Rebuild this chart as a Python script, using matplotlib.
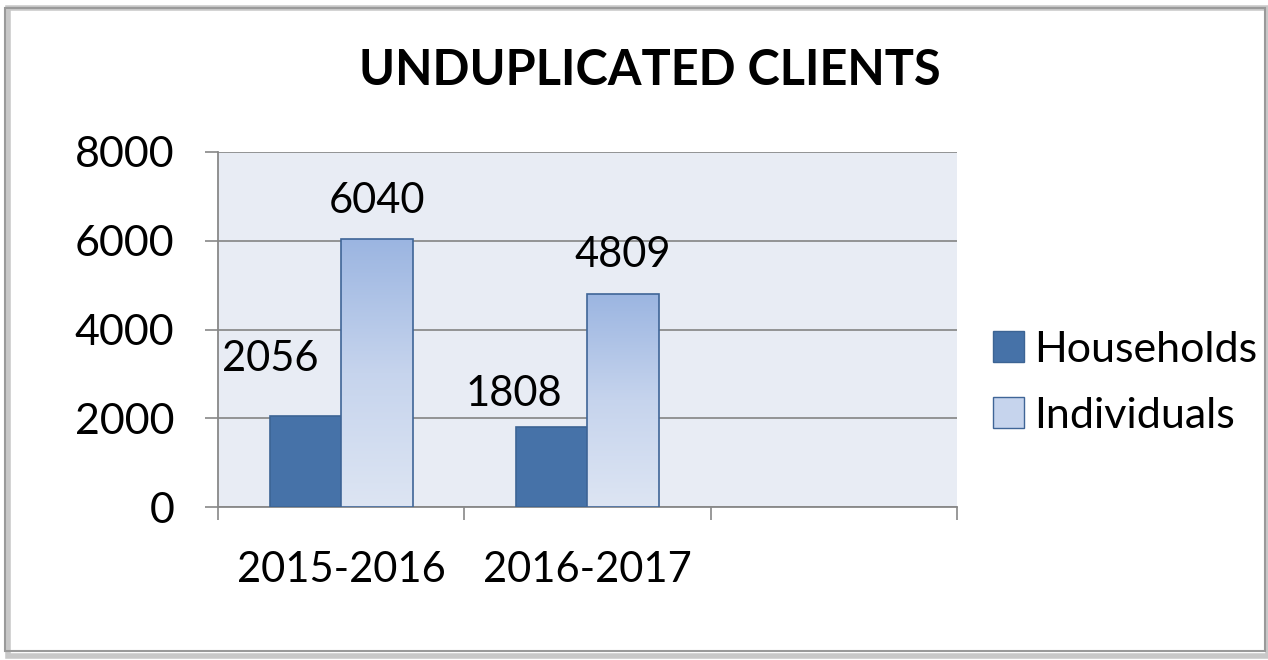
import numpy as np
import matplotlib.pyplot as plt
from matplotlib.patches import Rectangle, Patch
from matplotlib.colors import LinearSegmentedColormap

# data
categories = ["2015-2016", "2016-2017", ""]
households = [2056, 1808]
individuals = [6040, 4809]
series_names = ["Households", "Individuals"]
yticks = [0, 2000, 4000, 6000, 8000]

plt.rcParams["font.family"] = ["Lato", "DejaVu Sans"]

fig = plt.figure(figsize=(12.68, 6.6), dpi=100)

# outer frame with a soft shadow
fig.patches.append(Rectangle((0.006, 0.006), 0.994, 0.982, transform=fig.transFigure,
                             facecolor="none", edgecolor="#c8c8c8", lw=4, zorder=-2))
fig.patches.append(Rectangle((0.004, 0.014), 0.994, 0.974, transform=fig.transFigure,
                             facecolor="none", edgecolor="#9a9a9a", lw=1.5, zorder=-1))

ax = fig.add_axes([0.1719, 0.2318, 0.5828, 0.5379])
ax.set_facecolor("#e8ecf4")

dark = "#4672a8"
grad = LinearSegmentedColormap.from_list("ind", ["#dde5f3", "#c6d4ed", "#9bb5e1"])

w = 0.29
x = np.arange(len(households))
b1 = ax.bar(x - w / 2, households, w, color=dark, edgecolor="#3c6494", lw=1.2, zorder=3)
b2 = ax.bar(x + w / 2, individuals, w, color="none", edgecolor="#3f6597", lw=1.2, zorder=4)

# vertical gradient inside the Individuals bars
g = np.linspace(0, 1, 256).reshape(-1, 1)
for bar in b2:
    x0, y0 = bar.get_x(), bar.get_y()
    im = ax.imshow(g, cmap=grad, origin="lower", aspect="auto", zorder=3,
                   extent=[x0, x0 + bar.get_width(), y0, y0 + bar.get_height()])
    im.set_clip_path(bar)

# data labels (offsets in points, Excel places the small ones a bit to the left)
fs = 30
offs_h = [(-25, 27), (-27, 10)]
offs_i = [(0, 14), (0, 14)]
for bar, v, o in zip(b1, households, offs_h):
    ax.annotate(str(v), (bar.get_x() + bar.get_width() / 2, v), xytext=o,
                textcoords="offset points", ha="center", va="bottom", fontsize=fs)
for bar, v, o in zip(b2, individuals, offs_i):
    ax.annotate(str(v), (bar.get_x() + bar.get_width() / 2, v), xytext=o,
                textcoords="offset points", ha="center", va="bottom", fontsize=fs)

ax.set_xlim(-0.5, len(categories) - 0.5)
ax.set_ylim(0, 8000)
ax.set_yticks(yticks)
ax.set_xticks(np.arange(len(categories)))
ax.set_xticklabels(categories)
ax.set_xticks(np.arange(len(categories) + 1) - 0.5, minor=True)
ax.tick_params(axis="x", which="major", length=0, pad=32, labelsize=fs)
ax.tick_params(axis="x", which="minor", length=9.4, width=1.2, color="#888888")
ax.tick_params(axis="y", length=9.4, width=1.2, color="#888888", pad=22, labelsize=31)

ax.yaxis.grid(True, color="#8c8c8c", lw=1.3, zorder=1)
ax.set_axisbelow(True)
for s in ["top", "right"]:
    ax.spines[s].set_visible(False)
for s in ["left", "bottom"]:
    ax.spines[s].set_color("#888888")
    ax.spines[s].set_linewidth(1.3)

fig.text(0.5126, 0.893, "UNDUPLICATED CLIENTS", ha="center", va="center",
         fontsize=35, fontweight="bold")

handles = [Patch(facecolor=dark, edgecolor="#3c6494"),
           Patch(facecolor="#c6d4ed", edgecolor="#3f6597")]
fig.legend(handles, series_names, loc="center left", bbox_to_anchor=(0.783, 0.42),
           frameon=False, fontsize=31, handlelength=0.72, handleheight=0.72,
           handletextpad=0.25, labelspacing=0.65, borderpad=0, borderaxespad=0)

fig.savefig("out.png", dpi=100)
